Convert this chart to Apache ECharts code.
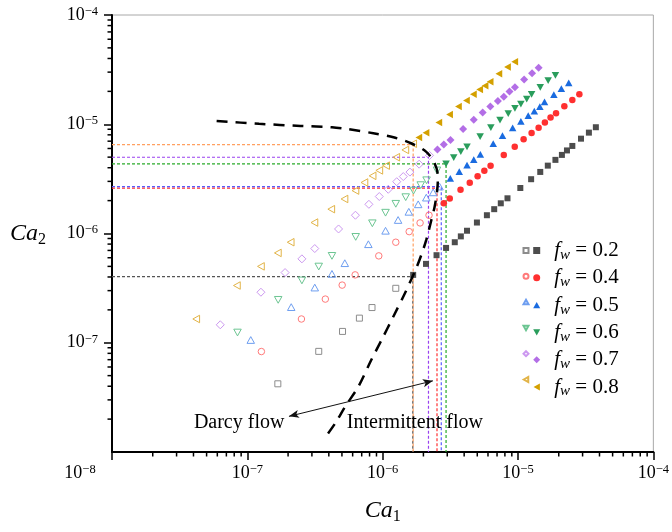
<!DOCTYPE html>
<html>
<head>
<meta charset="utf-8">
<script src="https://cdn.jsdelivr.net/npm/echarts@6/dist/echarts.min.js"></script>
<style>
  html, body { margin: 0; padding: 0; background: #fff; }
  #chart { width: 672px; height: 532px; }
</style>
</head>
<body>
<div id="chart"></div>
<script>
// Water fractional flow values, one pair of series (Darcy / intermittent) per value
const fwLabels = ['0.2', '0.4', '0.5', '0.6', '0.7', '0.8'];

// [Ca1, Ca2] points, Darcy flow regime (hollow markers)
const darcy02 = [[1.68e-7,4.21e-8],[3.37e-7,8.34e-8],[5.05e-7,1.27e-7],[6.73e-7,1.68e-7],[8.34e-7,2.10e-7],[1.25e-6,3.15e-7]];
const darcy04 = [[1.27e-7,8.31e-8],[2.51e-7,1.65e-7],[3.77e-7,2.51e-7],[5.02e-7,3.37e-7],[6.26e-7,4.18e-7],[9.36e-7,6.24e-7],[1.25e-6,8.32e-7],[1.57e-6,1.04e-6],[1.89e-6,1.25e-6],[2.20e-6,1.47e-6]];
const darcy05 = [[1.06e-7,1.06e-7],[2.11e-7,2.12e-7],[3.15e-7,3.20e-7],[4.22e-7,4.27e-7],[5.25e-7,5.35e-7],[7.84e-7,7.98e-7],[1.05e-6,1.06e-6],[1.30e-6,1.33e-6],[1.56e-6,1.58e-6],[1.83e-6,1.85e-6],[2.10e-6,2.13e-6],[2.36e-6,2.38e-6],[2.63e-6,2.69e-6]];
const darcy06 = [[8.46e-8,1.24e-7],[1.69e-7,2.47e-7],[2.53e-7,3.72e-7],[3.37e-7,4.98e-7],[4.22e-7,6.24e-7],[6.32e-7,9.31e-7],[8.39e-7,1.24e-6],[1.05e-6,1.55e-6],[1.25e-6,1.87e-6],[1.48e-6,2.15e-6],[1.69e-6,2.47e-6],[1.91e-6,2.77e-6],[2.11e-6,3.07e-6],[2.52e-6,3.78e-6]];
const darcy07 = [[6.31e-8,1.46e-7],[1.26e-7,2.90e-7],[1.90e-7,4.39e-7],[2.53e-7,5.86e-7],[3.15e-7,7.28e-7],[4.72e-7,1.10e-6],[6.29e-7,1.47e-6],[7.91e-7,1.85e-6],[9.44e-7,2.18e-6],[1.10e-6,2.54e-6],[1.27e-6,2.98e-6],[1.42e-6,3.32e-6],[1.59e-6,3.65e-6],[1.86e-6,4.31e-6],[2.22e-6,5.18e-6]];
const darcy08 = [[4.19e-8,1.65e-7],[8.37e-8,3.34e-7],[1.26e-7,5.00e-7],[1.68e-7,6.64e-7],[2.09e-7,8.32e-7],[3.13e-7,1.26e-6],[4.17e-7,1.67e-6],[5.22e-7,2.07e-6],[6.29e-7,2.47e-6],[7.33e-7,2.93e-6],[8.42e-7,3.37e-6],[9.44e-7,3.78e-6],[1.06e-6,4.18e-6],[1.26e-6,4.99e-6],[1.47e-6,5.82e-6],[1.68e-6,6.63e-6]];

// [Ca1, Ca2] points, intermittent flow regime (filled markers)
const inter02 = [[1.68e-6,4.18e-7],[2.09e-6,5.27e-7],[2.50e-6,6.33e-7],[2.94e-6,7.38e-7],[3.41e-6,8.32e-7],[3.78e-6,9.41e-7],[4.20e-6,1.06e-6],[4.97e-6,1.26e-6],[5.89e-6,1.47e-6],[6.67e-6,1.67e-6],[7.46e-6,1.89e-6],[8.36e-6,2.10e-6],[1.04e-5,2.61e-6],[1.25e-5,3.14e-6],[1.46e-5,3.66e-6],[1.66e-5,4.18e-6],[1.89e-5,4.72e-6],[2.11e-5,5.24e-6],[2.30e-5,5.76e-6],[2.52e-5,6.33e-6],[2.92e-5,7.38e-6],[3.34e-5,8.38e-6],[3.76e-5,9.39e-6]];
const inter04 = [[2.83e-6,1.89e-6],[3.13e-6,2.09e-6],[3.76e-6,2.51e-6],[4.40e-6,2.92e-6],[5.03e-6,3.34e-6],[5.64e-6,3.75e-6],[6.27e-6,4.17e-6],[7.85e-6,5.24e-6],[9.46e-6,6.24e-6],[1.10e-5,7.29e-6],[1.26e-5,8.33e-6],[1.42e-5,9.31e-6],[1.58e-5,1.04e-5],[1.74e-5,1.15e-5],[1.91e-5,1.26e-5],[2.20e-5,1.46e-5],[2.52e-5,1.67e-5],[2.84e-5,1.88e-5]];
const inter05 = [[3.16e-6,3.19e-6],[3.68e-6,3.68e-6],[4.20e-6,4.22e-6],[4.71e-6,4.75e-6],[5.27e-6,5.31e-6],[6.56e-6,6.65e-6],[7.68e-6,7.85e-6],[9.13e-6,9.25e-6],[1.05e-5,1.06e-5],[1.19e-5,1.20e-5],[1.32e-5,1.32e-5],[1.45e-5,1.45e-5],[1.57e-5,1.60e-5],[1.84e-5,1.87e-5],[2.09e-5,2.12e-5],[2.37e-5,2.39e-5]];
const inter06 = [[2.94e-6,4.33e-6],[3.35e-6,4.95e-6],[3.78e-6,5.62e-6],[4.20e-6,6.20e-6],[5.25e-6,7.70e-6],[6.30e-6,9.31e-6],[7.36e-6,1.09e-5],[8.47e-6,1.25e-5],[9.49e-6,1.40e-5],[1.05e-5,1.53e-5],[1.16e-5,1.70e-5],[1.26e-5,1.88e-5],[1.46e-5,2.17e-5],[1.67e-5,2.51e-5],[1.89e-5,2.80e-5]];
const inter07 = [[2.54e-6,5.88e-6],[2.83e-6,6.53e-6],[3.17e-6,7.19e-6],[3.93e-6,9.06e-6],[4.71e-6,1.10e-5],[5.48e-6,1.28e-5],[6.24e-6,1.45e-5],[7.10e-6,1.63e-5],[7.85e-6,1.79e-5],[8.65e-6,1.99e-5],[9.49e-6,2.18e-5],[1.11e-5,2.57e-5],[1.27e-5,2.93e-5],[1.42e-5,3.29e-5]];
const inter08 = [[1.85e-6,7.57e-6],[2.09e-6,8.38e-6],[2.60e-6,1.04e-5],[3.12e-6,1.23e-5],[3.63e-6,1.45e-5],[4.16e-6,1.65e-5],[4.68e-6,1.88e-5],[5.21e-6,2.08e-5],[5.71e-6,2.25e-5],[6.22e-6,2.45e-5],[7.22e-6,2.90e-5],[8.36e-6,3.34e-5],[9.46e-6,3.74e-5]];

// Transition capillary numbers for each fw (dotted guide lines)
const criticalCa1 = [1.67e-6, 2.52e-6, 2.71e-6, 2.94e-6, 2.18e-6, 1.68e-6];
const criticalCa2 = [4.03e-7, 2.60e-6, 2.69e-6, 4.33e-6, 4.99e-6, 6.51e-6];

// Regime boundary (dashed curve)
const boundaryCa1 = [5.93e-8,1.22e-7,2.47e-7,4.22e-7,5.59e-7,8.53e-7,1.20e-6,1.62e-6,2.09e-6,2.42e-6,2.56e-6,2.53e-6,2.42e-6,2.29e-6,2.10e-6,1.93e-6,1.77e-6,1.46e-6,1.20e-6,9.81e-7,8.25e-7,6.62e-7,5.29e-7,4.47e-7,3.79e-7];
const boundaryCa2 = [1.07e-5,1.01e-5,9.65e-6,9.39e-6,9.00e-6,8.27e-6,7.60e-6,6.70e-6,5.62e-6,4.40e-6,3.32e-6,2.51e-6,1.76e-6,1.33e-6,8.74e-7,6.37e-7,4.82e-7,2.84e-7,1.74e-7,1.06e-7,6.98e-8,3.97e-8,2.61e-8,1.84e-8,1.38e-8];

// Annotation texts, their anchor values and the double arrow between them
const regimeNames = ['Darcy flow', 'Intermittent flow'];
const regimeCa1 = [8.70e-8, 1.73e-6];
const regimeCa2 = [1.84e-8, 1.84e-8];
const arrowCa1 = [2.03e-7, 2.35e-6];
const arrowCa2 = [2.12e-8, 4.48e-8];

// Axis range and minor tick mantissas
const axisMin = 1e-8, axisMax = 1e-4;
const minorMantissas = [2, 3, 4, 5, 6, 7, 8, 9];
const minorDecades = [1e-8, 1e-7, 1e-6, 1e-5];

const darcySets = [darcy02, darcy04, darcy05, darcy06, darcy07, darcy08];
const interSets = [inter02, inter04, inter05, inter06, inter07, inter08];

const SERIF = '"Liberation Serif", "Times New Roman", serif';
const filledColors = ['#4d4d4d', '#ff3030', '#1a6be0', '#2a9d5c', '#b36ee6', '#d4a000'];
const hollowColors = ['#8c8c8c', '#ff7a7a', '#6e9ef0', '#6cc592', '#cc98f0', '#e2b448'];
const guideColors  = ['#555555', '#ff3030', '#5a5aff', '#2aaa2a', '#9a40f0', '#ffa060'];
const symbols = [
  'rect',
  'circle',
  'path://M5,0 L10,9 L0,9 Z',
  'path://M0,0 L10,0 L5,9 Z',
  'diamond',
  'path://M0,5 L9,0 L9,10 Z'
];
const symbolSizes = [6, 6.5, 7.5, 7.5, 8, 7.5];

function powerLabel(v, extraPad) {
  const e = Math.round(Math.log10(v));
  return '{b|10}{s|\u2212' + Math.abs(e) + '}' + (extraPad ? '{pad|}' : '');
}
const powerRich = {
  b: { fontFamily: SERIF, fontSize: 18, lineHeight: 20, color: '#000' },
  s: { fontFamily: SERIF, fontSize: 12.5, lineHeight: 12, verticalAlign: 'top', color: '#000' },
  pad: { width: 64 }
};

const series = [];

// dotted guide lines: from the Ca2 axis to the transition point, then down to the Ca1 axis
fwLabels.forEach((fw, i) => {
  series.push({
    name: 'guide ' + fw,
    type: 'line',
    data: [[axisMin, criticalCa2[i]], [criticalCa1[i], criticalCa2[i]], [criticalCa1[i], axisMin]],
    showSymbol: false,
    symbol: 'none',
    silent: true,
    z: 1,
    lineStyle: { color: guideColors[i], width: 1.2, type: [3, 2] }
  });
});

// Darcy flow points (hollow)
fwLabels.forEach((fw, i) => {
  series.push({
    name: 'Darcy ' + fw,
    type: 'scatter',
    data: darcySets[i],
    symbol: symbols[i],
    symbolSize: symbolSizes[i],
    symbolKeepAspect: true,
    z: 3,
    itemStyle: { color: 'rgba(255,255,255,0)', borderColor: hollowColors[i], borderWidth: 1, opacity: 1 }
  });
});

// Intermittent flow points (filled)
fwLabels.forEach((fw, i) => {
  series.push({
    name: fw,
    type: 'scatter',
    data: interSets[i],
    symbol: symbols[i],
    symbolSize: symbolSizes[i],
    symbolKeepAspect: true,
    z: 3,
    itemStyle: { color: filledColors[i], borderWidth: 0, opacity: 1 }
  });
});

// regime boundary
series.push({
  name: 'boundary',
  type: 'line',
  data: boundaryCa1.map((x, i) => [x, boundaryCa2[i]]),
  showSymbol: false,
  symbol: 'none',
  smooth: 0.3,
  silent: true,
  z: 4,
  lineStyle: { color: '#000', width: 2.5, type: [11, 8] }
});

// regime labels and double arrow
series.push({
  name: 'regimes',
  type: 'scatter',
  data: regimeNames.map((n, i) => ({ name: n, value: [regimeCa1[i], regimeCa2[i]] })),
  symbolSize: 1,
  itemStyle: { color: 'rgba(0,0,0,0)', opacity: 1 },
  silent: true,
  z: 5,
  label: {
    show: true, position: 'inside', formatter: '{b}',
    fontFamily: SERIF, fontSize: 20, color: '#000', opacity: 1,
    textBorderWidth: 0, textShadowBlur: 0
  },
  markLine: {
    silent: true,
    symbol: ['arrow', 'arrow'],
    symbolSize: [6, 10],
    label: { show: false },
    lineStyle: { color: '#111', width: 1, type: 'solid', opacity: 1 },
    data: [[{ coord: [arrowCa1[0], arrowCa2[0]] }, { coord: [arrowCa1[1], arrowCa2[1]] }]]
  }
});

// minor ticks on both log axes, drawn outward
const minorData = [];
minorDecades.forEach(d => minorMantissas.forEach(m => {
  minorData.push([m * d, axisMin, 0]);
  minorData.push([axisMin, m * d, 1]);
}));
series.push({
  name: 'minor ticks',
  type: 'custom',
  data: minorData,
  clip: false,
  silent: true,
  z: 6,
  renderItem: function (params, api) {
    const p = api.coord([api.value(0), api.value(1)]);
    const onX = api.value(2) === 0;
    return {
      type: 'line',
      shape: onX
        ? { x1: p[0], y1: p[1], x2: p[0], y2: p[1] + 4.5 }
        : { x1: p[0] - 4.5, y1: p[1], x2: p[0], y2: p[1] },
      style: { stroke: '#000', lineWidth: 1.5 }
    };
  }
});

const legendText = {
  fontFamily: SERIF,
  rich: {
    sp: { width: 9, lineHeight: 24 },
    i: { fontFamily: SERIF, fontStyle: 'italic', fontSize: 21, lineHeight: 24, color: '#000' },
    w: { fontFamily: SERIF, fontStyle: 'italic', fontSize: 15, lineHeight: 8, verticalAlign: 'bottom', color: '#000' },
    n: { fontFamily: SERIF, fontSize: 21, lineHeight: 24, color: '#000' }
  }
};

const option = {
  animation: false,
  backgroundColor: '#fff',
  grid: { left: 112, right: 16, top: 15, bottom: 80, show: true, borderColor: '#a8a8a8', borderWidth: 1 },
  legend: [
    {
      data: fwLabels.map(fw => 'Darcy ' + fw),
      orient: 'vertical', left: 522.5, top: 240, padding: 0,
      itemWidth: 5, itemHeight: 5, itemGap: 4.8,
      selectedMode: false,
      formatter: () => '{n| }',
      textStyle: legendText
    },
    {
      data: fwLabels.slice(),
      orient: 'vertical', left: 533.2, top: 240, padding: 0,
      itemWidth: 7, itemHeight: 7, itemGap: 4.8,
      selectedMode: false,
      formatter: name => '{sp|}{i|f}{w|w}{n| = ' + name + '}',
      textStyle: legendText
    }
  ],
  xAxis: {
    type: 'log', logBase: 10, min: axisMin, max: axisMax,
    name: '{i|Ca}{s|1}', nameLocation: 'middle', nameGap: 45,
    nameTextStyle: {
      rich: {
        i: { fontFamily: SERIF, fontStyle: 'italic', fontSize: 24, lineHeight: 28, color: '#000' },
        s: { fontFamily: SERIF, fontSize: 16, lineHeight: 18, verticalAlign: 'bottom', color: '#000' }
      }
    },
    axisLine: { lineStyle: { color: '#000', width: 2 } },
    axisTick: { length: 8, lineStyle: { color: '#000', width: 1.5 } },
    splitLine: { show: false },
    axisLabel: {
      margin: 11,
      color: '#000',
      formatter: v => powerLabel(v, Math.abs(v - axisMin) < 1e-12),
      rich: powerRich
    }
  },
  yAxis: {
    type: 'log', logBase: 10, min: axisMin, max: axisMax,
    name: '{i|Ca}{s|2}', nameLocation: 'middle', nameGap: 66, nameRotate: 0,
    nameTextStyle: {
      rich: {
        i: { fontFamily: SERIF, fontStyle: 'italic', fontSize: 24, lineHeight: 28, color: '#000' },
        s: { fontFamily: SERIF, fontSize: 16, lineHeight: 18, verticalAlign: 'bottom', color: '#000' }
      }
    },
    axisLine: { lineStyle: { color: '#000', width: 2 } },
    axisTick: { length: 8, lineStyle: { color: '#000', width: 1.5 } },
    splitLine: { show: false },
    axisLabel: {
      margin: 14,
      color: '#000',
      showMinLabel: false,
      formatter: v => powerLabel(v, false),
      rich: powerRich
    }
  },
  series: series
};

const chart = echarts.init(document.getElementById('chart'), null, { renderer: 'canvas' });
chart.setOption(option);
</script>
</body>
</html>
